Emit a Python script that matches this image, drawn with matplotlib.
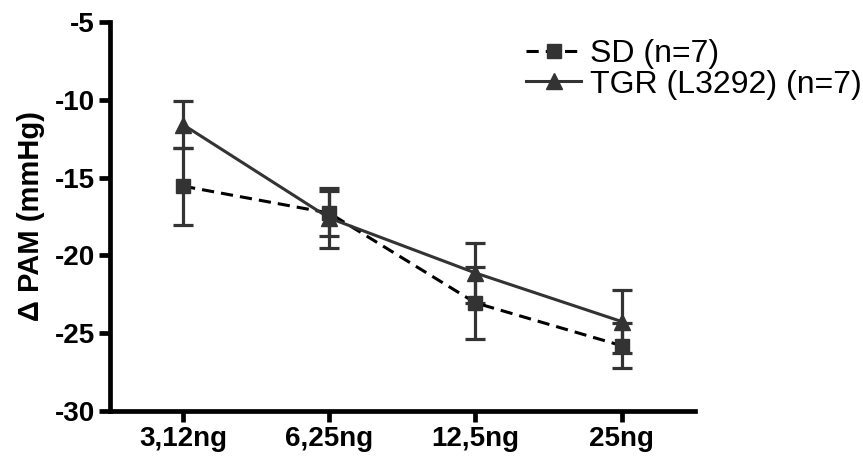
import matplotlib
matplotlib.use("Agg")
import matplotlib.pyplot as plt
from matplotlib.lines import Line2D

plt.rcParams.update({"font.family": ["Liberation Sans", "DejaVu Sans"],
                     "axes.unicode_minus": False})

DOSES = ["3,12ng", "6,25ng", "12,5ng", "25ng"]
SD_MEAN = [-15.55, -17.28, -23.05, -25.8]
SD_ERR = [2.47, 1.45, 2.33, 1.45]
TGR_MEAN = [-11.6, -17.6, -21.13, -24.25]
TGR_ERR = [1.5, 1.9, 1.9, 2.0]

GRAY = "#333333"
SD_STYLE = dict(color="black", ls=(0, (4, 2.3)), lw=2.2, marker="s", ms=10,
                mfc=GRAY, mec=GRAY)
TGR_STYLE = dict(color=GRAY, ls="-", lw=2.2, marker="^", ms=11, mfc=GRAY, mec=GRAY)

fig = plt.figure(figsize=(8.63, 4.58), dpi=100)
ax = fig.add_axes([0.1275, 0.1026, 0.6775, 0.8494])

xs = range(len(DOSES))
ax.errorbar(xs, SD_MEAN, yerr=SD_ERR, ecolor=GRAY, elinewidth=2.3,
            capsize=7, capthick=2.3, zorder=3, **SD_STYLE)
ax.errorbar(xs, TGR_MEAN, yerr=TGR_ERR, ecolor=GRAY, elinewidth=2.3,
            capsize=7, capthick=2.3, zorder=3, **TGR_STYLE)

ax.set_xlim(-0.5, 3.5)
ax.set_ylim(-30, -5)
ax.set_yticks(range(-30, -4, 5))
ax.set_xticks(list(xs))
ax.set_xticklabels(DOSES)
for s in ("top", "right"):
    ax.spines[s].set_visible(False)
for s in ("left", "bottom"):
    ax.spines[s].set_linewidth(3.4)
ax.tick_params(width=3.4, length=8, labelsize=20, direction="out", pad=3)
for lab in ax.get_xticklabels() + ax.get_yticklabels():
    lab.set_fontweight("bold")
ax.set_ylabel("Δ PAM (mmHg)", fontsize=21, fontweight="bold", labelpad=7)

handles = [Line2D([], [], **SD_STYLE), Line2D([], [], **TGR_STYLE)]
ax.legend(handles, ["SD (n=7)", "TGR (L3292) (n=7)"], loc="upper right",
          bbox_to_anchor=(0.999, 0.915), bbox_transform=fig.transFigure,
          frameon=False, fontsize=23, handlelength=1.7, handletextpad=0.3,
          labelspacing=0.02, borderaxespad=0, borderpad=0)

fig.savefig("out.png", dpi=100)
